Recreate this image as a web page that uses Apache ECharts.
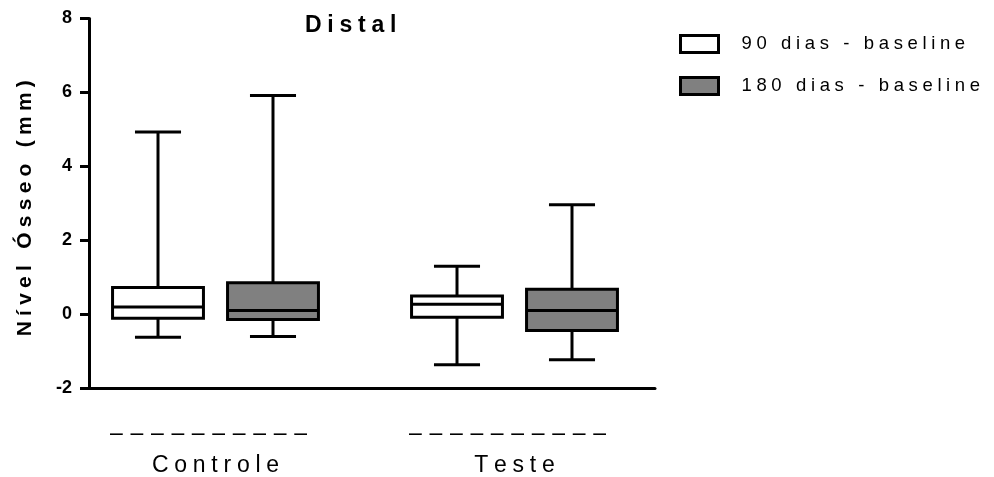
<!DOCTYPE html>
<html>
<head>
<meta charset="utf-8">
<script src="https://cdn.jsdelivr.net/npm/echarts@6/dist/echarts.min.js"></script>
<style>
  html, body { margin: 0; padding: 0; background: #fff; }
  #chart { width: 994px; height: 477px; }
</style>
</head>
<body>
<div id="chart"></div>
<script>
// ---- data ----
const categories = ['Controle', 'Teste'];
const seriesNames = ['90 dias - baseline', '180 dias - baseline'];
// each row: [min, q1, median, q3, max]
const dias90 = [
  [-0.70, -0.18, 0.13, 0.66, 4.90],
  [-1.45, -0.15, 0.20, 0.43, 1.24]
];
const dias180 = [
  [-0.68, -0.21, 0.03, 0.79, 5.90],
  [-1.31, -0.51, 0.03, 0.61, 2.92]
];
const yTicks = [-2, 0, 2, 4, 6, 8];
const titleText = 'Distal';
const yTitle = 'Nível Ósseo (mm)';

// ---- helpers ----
const FONT = '"Liberation Sans", Arial, sans-serif';
const SP = '\u2005';
function track(s) { return Array.from(s).join(SP); }
const DASHES = Array(10).fill('\u2013').join('\u2004');

const BOX_FRAC = 0.304, CAP_FRAC = 0.154, OFF_FRAC = 0.1923;

function makeRender(offsetFrac, fill) {
  return function (params, api) {
    const ci = api.value(0);
    const band = api.size([1, 0])[0];
    const cx = api.coord([ci, 0])[0] + offsetFrac * band;
    const yv = k => api.coord([ci, api.value(k)])[1];
    const yMin = yv(1), yQ1 = yv(2), yMed = yv(3), yQ3 = yv(4), yMax = yv(5);
    const bw = band * BOX_FRAC, cw = band * CAP_FRAC;
    const ls = { stroke: '#000', lineWidth: 3 };
    return {
      type: 'group',
      children: [
        { type: 'line', shape: { x1: cx, y1: yMax, x2: cx, y2: yQ3 }, style: ls },
        { type: 'line', shape: { x1: cx, y1: yQ1, x2: cx, y2: yMin }, style: ls },
        { type: 'line', shape: { x1: cx - cw / 2, y1: yMax, x2: cx + cw / 2, y2: yMax }, style: ls },
        { type: 'line', shape: { x1: cx - cw / 2, y1: yMin, x2: cx + cw / 2, y2: yMin }, style: ls },
        { type: 'rect', shape: { x: cx - bw / 2, y: yQ3, width: bw, height: yQ1 - yQ3 },
          style: { fill: fill, stroke: '#000', lineWidth: 3 } },
        { type: 'line', shape: { x1: cx - bw / 2, y1: yMed, x2: cx + bw / 2, y2: yMed }, style: ls }
      ]
    };
  };
}

const chart = echarts.init(document.getElementById('chart'), null, { renderer: 'canvas' });
chart.setOption({
  animation: false,
  backgroundColor: '#fff',
  title: {
    text: track(titleText),
    left: 305, top: 14, padding: 0,
    textStyle: { fontFamily: FONT, fontWeight: 'bold', fontSize: 23, color: '#000' }
  },
  legend: {
    orient: 'vertical',
    left: 679, top: 34, padding: 0,
    itemWidth: 38, itemHeight: 17, itemGap: 22,
    formatter: name => track(name),
    textStyle: { fontFamily: FONT, fontSize: 18.5, color: '#000', lineHeight: 20, padding: [0, 0, 0, 18] },
    data: [
      { name: seriesNames[0], icon: 'rect', itemStyle: { color: '#ffffff', borderColor: '#000', borderWidth: 3 } },
      { name: seriesNames[1], icon: 'rect', itemStyle: { color: '#808080', borderColor: '#000', borderWidth: 3 } }
    ]
  },
  grid: [
    { left: 89, top: 18.5, width: 566, height: 369.5, containLabel: false },
    { left: 66, top: 18.5, width: 598, height: 369.5, containLabel: false }
  ],
  xAxis: [
    { gridIndex: 0, type: 'value', min: 0, max: 1,
      axisLine: { show: true, onZero: false, lineStyle: { color: '#000', width: 3 } },
      axisTick: { show: false }, axisLabel: { show: false }, splitLine: { show: false } },
    { gridIndex: 1, type: 'category', data: categories, boundaryGap: true,
      axisLine: { show: false }, axisTick: { show: false }, splitLine: { show: false },
      axisLabel: {
        margin: 34,
        formatter: v => '{d|' + DASHES + '}\n{l|' + track(v) + '}',
        rich: {
          d: { fontFamily: FONT, fontSize: 23, color: '#000', lineHeight: 30, padding: [0, 14, 0, 0] },
          l: { fontFamily: FONT, fontSize: 23, color: '#000', lineHeight: 33 }
        }
      } }
  ],
  yAxis: [
    { gridIndex: 0, type: 'value', min: yTicks[0], max: yTicks[yTicks.length - 1], interval: 2,
      name: track(yTitle), nameLocation: 'middle', nameRotate: 90, nameGap: 53,
      nameTextStyle: { fontFamily: FONT, fontWeight: 'bold', fontSize: 21, color: '#000', padding: [0, 10, 0, 0] },
      axisLine: { show: true, onZero: false, lineStyle: { color: '#000', width: 3 } },
      axisTick: { show: true, length: 9, lineStyle: { color: '#000', width: 3 } },
      axisLabel: { margin: 17, fontFamily: FONT, fontWeight: 'bold', fontSize: 18, color: '#000' },
      splitLine: { show: false } },
    { gridIndex: 1, type: 'value', min: yTicks[0], max: yTicks[yTicks.length - 1], interval: 2,
      show: false, splitLine: { show: false } }
  ],
  series: [
    { name: seriesNames[0], type: 'custom', xAxisIndex: 1, yAxisIndex: 1,
      itemStyle: { color: '#ffffff', borderColor: '#000' },
      renderItem: makeRender(-OFF_FRAC, '#ffffff'),
      encode: { x: 0, y: [1, 2, 3, 4, 5] },
      data: dias90.map((r, i) => [i].concat(r)) },
    { name: seriesNames[1], type: 'custom', xAxisIndex: 1, yAxisIndex: 1,
      itemStyle: { color: '#808080', borderColor: '#000' },
      renderItem: makeRender(OFF_FRAC, '#808080'),
      encode: { x: 0, y: [1, 2, 3, 4, 5] },
      data: dias180.map((r, i) => [i].concat(r)) }
  ]
});
</script>
</body>
</html>
